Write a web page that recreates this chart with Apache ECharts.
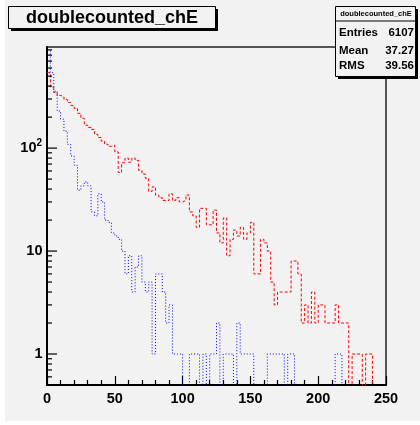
<!DOCTYPE html>
<html>
<head>
<meta charset="utf-8">
<script src="https://cdn.jsdelivr.net/npm/echarts@6/dist/echarts.min.js"></script>
<style>
  html, body { margin: 0; padding: 0; background: #ffffff; }
  #chart { width: 420px; height: 425px; }
</style>
</head>
<body>
<div id="chart"></div>
<script>
// Histogram binning: 100 bins of width 2.5 over [0, 250]
const binWidth = 2.5;
const xMin = 0;
const xMax = 250;

// doublecounted_chE (red, dashed) bin contents
const redCounts = [
  540, 391, 347, 325, 317, 297, 278, 260, 243, 218,
  195, 167, 159, 152, 136, 127, 117, 109, 104, 107,
  92, 58, 72, 80, 73, 80, 76, 61, 56, 51,
  38, 42, 35, 33, 31, 31, 36, 31, 33, 30,
  31, 35, 24, 22, 17, 26, 26, 18, 18, 25,
  15, 12, 21, 9, 13, 16, 14, 17, 13, 15,
  19, 6, 6, 13, 12, 10, 5, 3, 4, 4,
  4, 4, 8, 8, 6, 2, 3, 2, 4, 2,
  3, 3, 2, 2, 2, 3, 2, 2, 2, 0,
  1, 1, 1, 0, 1, 1, 0, 0, 0, 0
];

// second distribution (blue, dotted) bin contents
const blueCounts = [
  880, 540, 357, 229, 191, 146, 109, 84, 68, 39,
  43, 47, 43, 24, 22, 36, 30, 20, 19, 15,
  14, 13, 10, 6, 9, 4, 7, 9, 5, 4,
  5, 1, 6, 6, 4, 2, 3, 1, 1, 1,
  0, 0, 1, 1, 1, 0, 1, 0, 1, 1,
  2, 0, 1, 1, 1, 0, 2, 1, 1, 1,
  1, 0, 0, 0, 0, 1, 1, 1, 1, 1,
  0, 1, 1, 0, 0, 0, 0, 0, 0, 0,
  0, 0, 0, 0, 0, 1, 1, 0, 0, 0,
  0, 0, 0, 0, 0, 0, 0, 0, 0, 0
];

// Axis ranges and tick values
const yMin = 0.5;
const yMax = 960;
const xInterval = 50;
const yMajorTicks = [1, 10, 100];
const yMinorTicks = [0.6, 0.7, 0.8, 0.9, 2, 3, 4, 5, 6, 7, 8, 9,
  20, 30, 40, 50, 60, 70, 80, 90, 200, 300, 400, 500, 600, 700, 800, 900];
const yTickLabels = [
  { value: 1, base: '1', exp: '' },
  { value: 10, base: '10', exp: '' },
  { value: 100, base: '10', exp: '2' }
];

// Title and statistics box
const titleText = 'doublecounted_chE';
const statsTitle = 'doublecounted_chE';
const statsRows = [
  ['Entries', '6107'],
  ['Mean', '37.27'],
  ['RMS', '39.56']
];

const FONT = '"Liberation Sans", Arial, Helvetica, sans-serif';
const BG = '#f2f2f2';
// Empty bins fall below the log-axis floor and get clipped at the frame bottom
const EMPTY_LEVEL = 0.05;

function stepData(counts) {
  const pts = counts.map((c, i) => [xMin + i * binWidth, c > 0 ? c : EMPTY_LEVEL]);
  const last = counts[counts.length - 1];
  pts.push([xMin + counts.length * binWidth, last > 0 ? last : EMPTY_LEVEL]);
  return pts;
}

const chart = echarts.init(document.getElementById('chart'), null, { renderer: 'canvas' });

const gridLeft = 47, gridTop = 47, gridRight = 34, gridBottom = 40;

const tickData = yMajorTicks.map(v => [0, v, 1]).concat(yMinorTicks.map(v => [0, v, 0]));

const option = {
  animation: false,
  backgroundColor: 'transparent',
  grid: {
    left: gridLeft, top: gridTop, right: gridRight, bottom: gridBottom,
    show: true, backgroundColor: BG, borderColor: '#222', borderWidth: 1.5,
    containLabel: false, outerBoundsMode: 'none'
  },
  xAxis: {
    type: 'value', min: xMin, max: xMax, interval: xInterval,
    axisLine: { show: true, onZero: false, lineStyle: { color: '#000', width: 2 } },
    axisTick: { show: true, inside: true, length: 9, lineStyle: { color: '#000', width: 1.2 } },
    minorTick: { show: true, splitNumber: 5, length: 5, lineStyle: { color: '#000', width: 1.2 } },
    splitLine: { show: false },
    minorSplitLine: { show: false },
    axisLabel: {
      color: '#000', fontFamily: FONT, fontWeight: 'bold', fontSize: 14.5, margin: 6
    }
  },
  yAxis: {
    type: 'log', logBase: 10, min: yMin, max: yMax,
    axisLine: { show: true, lineStyle: { color: '#000', width: 2 } },
    axisTick: { show: false },
    minorTick: { show: false },
    splitLine: { show: false },
    axisLabel: { show: false }
  },
  graphic: [
    // pad background
    { type: 'rect', z: -10, silent: true, shape: { x: 5, y: 0, width: 415, height: 421 }, style: { fill: BG } },
    // title box with shadow
    { type: 'rect', z: 10, shape: { x: 11, y: 9, width: 207, height: 22 }, style: { fill: '#000' } },
    { type: 'rect', z: 11, shape: { x: 8.5, y: 6.5, width: 207, height: 22 }, style: { fill: BG, stroke: '#000', lineWidth: 1 } },
    { type: 'text', z: 12, style: { x: 112, y: 18.3, text: titleText, fill: '#000', font: 'bold 18px ' + FONT, align: 'center', verticalAlign: 'middle' } },
    // statistics box with shadow
    { type: 'rect', z: 10, shape: { x: 338, y: 9, width: 80, height: 70 }, style: { fill: '#000' } },
    { type: 'rect', z: 11, shape: { x: 335.5, y: 6.5, width: 80, height: 70 }, style: { fill: BG, stroke: '#000', lineWidth: 1 } },
    { type: 'line', z: 12, shape: { x1: 335.5, y1: 21, x2: 415.5, y2: 21 }, style: { stroke: '#000', lineWidth: 1 } },
    { type: 'text', z: 12, style: { x: 376, y: 14, text: statsTitle, fill: '#000', font: 'bold 7.5px ' + FONT, align: 'center', verticalAlign: 'middle' } }
  ].concat(statsRows.flatMap((row, i) => {
    const y = [33, 50.5, 66][i];
    return [
      { type: 'text', z: 12, style: { x: 339, y: y, text: row[0], fill: '#000', font: 'bold 11.5px ' + FONT, align: 'left', verticalAlign: 'middle' } },
      { type: 'text', z: 12, style: { x: 414, y: y, text: row[1], fill: '#000', font: 'bold 11.5px ' + FONT, align: 'right', verticalAlign: 'middle' } }
    ];
  })),
  series: [
    {
      name: 'doublecounted_chE', type: 'line', step: 'end', symbol: 'none', clip: true,
      data: stepData(redCounts), z: 3,
      lineStyle: { color: '#ff0000', width: 1, type: [3, 2] }
    },
    {
      name: 'blue', type: 'line', step: 'end', symbol: 'none', clip: true,
      data: stepData(blueCounts), z: 4,
      lineStyle: { color: '#0000ff', width: 1, type: [1, 2] }
    },
    {
      // inward y-axis ticks at decade and sub-decade values
      name: 'yTicks', type: 'custom', clip: false, z: 5, silent: true,
      data: tickData,
      renderItem: function (params, api) {
        const p = api.coord([xMin, api.value(1)]);
        const len = api.value(2) ? 10 : 5;
        return {
          type: 'line',
          shape: { x1: p[0], y1: p[1], x2: p[0] + len, y2: p[1] },
          style: { stroke: '#000', lineWidth: 1.2 }
        };
      }
    },
    {
      // y-axis labels, decades written with an exponent
      name: 'yLabels', type: 'custom', clip: false, z: 5, silent: true,
      data: yTickLabels.map(t => [xMin, t.value]),
      renderItem: function (params, api) {
        const t = yTickLabels[params.dataIndex];
        const p = api.coord([xMin, api.value(1)]);
        const children = [];
        if (t.exp) {
          children.push({ type: 'text', style: { x: p[0] - 10.5, y: p[1], text: t.base, fill: '#000', font: 'bold 14.5px ' + FONT, align: 'right', verticalAlign: 'middle' } });
          children.push({ type: 'text', style: { x: p[0] - 10.5, y: p[1] - 5, text: t.exp, fill: '#000', font: 'bold 10px ' + FONT, align: 'left', verticalAlign: 'middle' } });
        } else {
          children.push({ type: 'text', style: { x: p[0] - 4.5, y: p[1], text: t.base, fill: '#000', font: 'bold 14.5px ' + FONT, align: 'right', verticalAlign: 'middle' } });
        }
        return { type: 'group', children: children };
      }
    }
  ]
};

chart.setOption(option);
</script>
</body>
</html>
